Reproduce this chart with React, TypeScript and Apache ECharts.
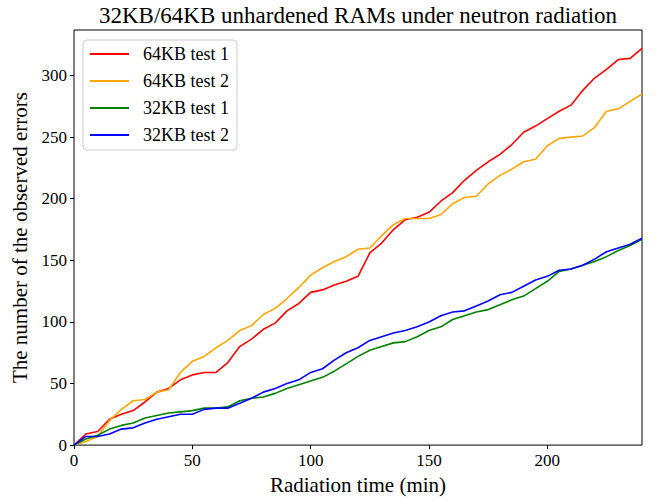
import React, { useEffect, useRef } from "react";
import * as echarts from "echarts";

const times = [0, 5, 10, 15, 20, 25, 30, 35, 40, 45, 50, 55, 60, 65, 70, 75, 80, 85, 90, 95, 100, 105, 110, 115, 120, 125, 130, 135, 140, 145, 150, 155, 160, 165, 170, 175, 180, 185, 190, 195, 200, 205, 210, 215, 220, 225, 230, 235, 240];

const kb64Test1 = [0, 9, 11, 21, 25, 28, 35, 43, 46, 53, 57, 59, 59, 67, 80, 86, 94, 99, 109, 115, 124, 126, 130, 133, 137, 156, 164, 175, 183, 185, 189, 198, 205, 215, 223, 230, 236, 244, 254, 259, 265, 271, 276, 288, 298, 305, 313, 314, 322];
const kb64Test2 = [0, 3, 7, 20, 29, 36, 37, 43, 45, 59, 68, 72, 79, 85, 93, 97, 106, 111, 119, 128, 138, 144, 149, 153, 159, 160, 170, 179, 184, 184, 184, 187, 196, 201, 202, 212, 219, 224, 230, 232, 243, 249, 250, 251, 258, 271, 273, 279, 285];
const kb32Test1 = [0, 5, 8, 13, 16, 18, 22, 24, 26, 27, 28, 30, 30, 31, 36, 38, 39, 42, 46, 49, 52, 55, 60, 66, 72, 77, 80, 83, 84, 88, 93, 96, 102, 105, 108, 110, 114, 118, 121, 127, 133, 141, 143, 146, 149, 153, 158, 162, 167];
const kb32Test2 = [0, 7, 7, 9, 13, 14, 18, 21, 23, 25, 25, 29, 30, 30, 34, 38, 43, 46, 50, 53, 59, 62, 69, 75, 79, 85, 88, 91, 93, 96, 100, 105, 108, 109, 113, 117, 122, 124, 129, 134, 137, 142, 143, 146, 151, 157, 160, 163, 168];

const seriesNames = ["64KB test 1", "64KB test 2", "32KB test 1", "32KB test 2"];
const xTicks = [0, 50, 100, 150, 200];
const yTicks = [0, 50, 100, 150, 200, 250, 300];

export default function App() {
  const ref = useRef<HTMLDivElement>(null);
  useEffect(() => {
    const chart = echarts.init(ref.current!, null, { renderer: "svg" });
    const font = "'Liberation Serif', 'Times New Roman', serif";
    const colors = ["#ff0000", "#ffa500", "#008000", "#0000ff"];
    const values = [kb64Test1, kb64Test2, kb32Test1, kb32Test2];
    const series = seriesNames.map((name, k) => ({
      name,
      type: "line",
      data: times.map((t, i) => [t, values[k][i]]),
      symbol: "none",
      showSymbol: false,
      lineStyle: { color: colors[k], width: 1.6 },
      itemStyle: { color: colors[k] },
      z: 2 + k,
    }));
    chart.setOption({
      animation: false,
      backgroundColor: "#ffffff",
      title: {
        text: "32KB/64KB unhardened RAMs under neutron radiation",
        left: 358,
        top: 4,
        padding: 0,
        textAlign: "center",
        textStyle: { fontFamily: font, fontSize: 23, fontWeight: "normal", color: "#000" },
      },
      legend: {
        orient: "vertical",
        left: 83,
        top: 40,
        data: seriesNames,
        icon: "rect",
        itemWidth: 39,
        itemHeight: 2,
        itemGap: 9,
        padding: [5, 8, 6, 7],
        borderColor: "#cccccc",
        borderWidth: 1,
        borderRadius: 4,
        backgroundColor: "#ffffff",
        textStyle: { fontFamily: font, fontSize: 18, color: "#000", lineHeight: 18, padding: [0, 0, 0, 9] },
      },
      grid: {
        left: 74,
        right: 14,
        top: 30,
        bottom: 52,
        show: true,
        borderColor: "#000",
        borderWidth: 1,
        backgroundColor: "transparent",
      },
      xAxis: {
        type: "value",
        min: 0,
        max: 240,
        interval: 50,
        splitLine: { show: false },
        axisLine: { show: false },
        axisTick: { show: true, length: 4, lineStyle: { color: "#000" }, customValues: xTicks },
        axisLabel: { fontFamily: font, fontSize: 17, color: "#000", margin: 7, customValues: xTicks },
        name: "Radiation time (min)",
        nameLocation: "middle",
        nameGap: 27,
        nameTextStyle: { fontFamily: font, fontSize: 21, color: "#000" },
      },
      yAxis: {
        type: "value",
        min: 0,
        max: 337,
        interval: 50,
        splitLine: { show: false },
        axisLine: { show: false },
        axisTick: { show: true, length: 4, lineStyle: { color: "#000" }, customValues: yTicks },
        axisLabel: { fontFamily: font, fontSize: 17, color: "#000", margin: 7, customValues: yTicks },
        name: "The number of the observed errors",
        nameLocation: "middle",
        nameGap: 41,
        nameTextStyle: { fontFamily: font, fontSize: 21, color: "#000" },
      },
      series,
    });
    return () => chart.dispose();
  }, []);
  return <div ref={ref} style={{ position: "absolute", left: 0, top: 0, width: 656, height: 500 }} />;
}
